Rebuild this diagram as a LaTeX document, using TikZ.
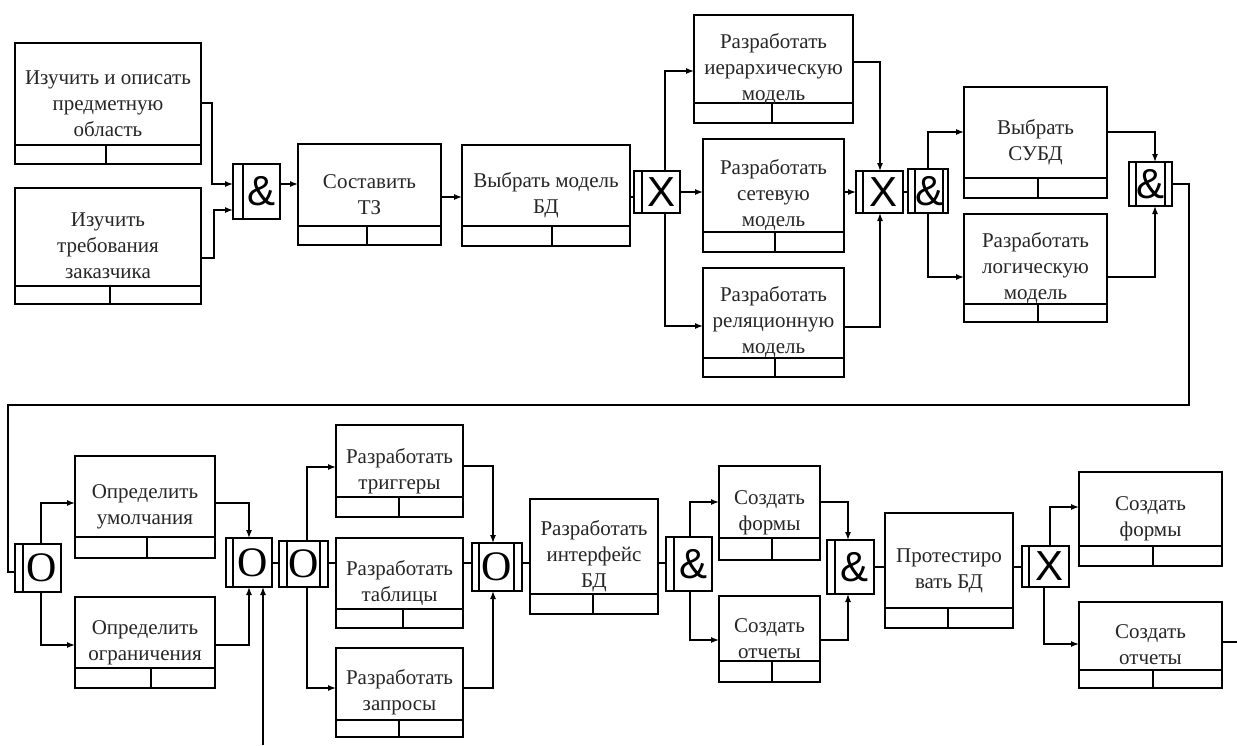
\documentclass[tikz,border=0pt]{standalone}
\usepackage{fontspec}
\setmainfont{Liberation Serif}
\newfontfamily\symsans{Liberation Sans}
\newfontfamily\symserif{Liberation Serif}
\usetikzlibrary{arrows.meta}
\tikzset{
  ubx/.style={draw, line width=1.3pt, rectangle, inner sep=0pt, outer sep=0pt},
  jbox/.style={draw, line width=1.3pt, rectangle, inner sep=0pt, outer sep=0pt, fill=white},
  txt/.style={font=\fontsize{21}{26}\selectfont, align=center, inner sep=0pt, text=black!85},
  ampsym/.style={font=\symsans\fontsize{42}{42}\selectfont, inner sep=0pt},
  xsym/.style={font=\symsans\fontsize{42}{42}\selectfont, inner sep=0pt},
  osym/.style={font=\symserif\fontsize{42}{42}\selectfont, inner sep=0pt},
  conn/.style={line width=1.3pt},
  arr/.style={conn, -{Latex[length=8pt,width=6pt]}},
  thin line/.style={line width=1.3pt}
}
% name, x1, y1, x2, y2, divider y, divider x, text
\newcommand\ubox[8]{%
  \node[ubx, minimum width={#4-#2}, minimum height={#5-#3}] (#1) at ({(#2+#4)/2},{(#3+#5)/2}) {};
  \draw[thin line] (#2,#6) -- (#4,#6);
  \draw[thin line] (#7,#6) -- (#7,#5);
  \node[txt] at ({(#2+#4)/2},{(#3+#5)/2}) {#8};
}
% name, x1, y1, x2, y2, symbol style, left strip x, right strip x (= x2 if none)
\newcommand\jn[8]{%
  \node[jbox, minimum width={#4-#2}, minimum height={#5-#3}] (#1) at ({(#2+#4)/2},{(#3+#5)/2}) {};
  \draw[thin line] (#7,#3) -- (#7,#5);
  \draw[thin line] (#8,#3) -- (#8,#5);
  \node[#6sym] at ({(#7+#8)/2},{(#3+#5)/2}) {\csname jsym#6\endcsname};
}
\newcommand\jsymamp{\&}
\newcommand\jsymx{X}
\newcommand\jsymo{O}
\begin{document}
\begin{tikzpicture}[x=1pt,y=-1pt]
\useasboundingbox[fill=white] (0,0) rectangle (1237,745);

% ---------- top row boxes ----------
\ubox{a1}{15}{43}{201}{164}{145}{106}{Изучить и описать\\предметную\\область}
\ubox{a2}{15}{188}{201}{304}{286}{110}{Изучить\\требования\\заказчика}
\ubox{tz}{298}{144}{441}{245}{226}{367}{Составить\\ТЗ}
\ubox{vm}{462}{145}{630}{246}{226}{552}{Выбрать модель\\БД}
\ubox{ier}{694}{15}{853}{123}{103}{772}{Разработать\\иерархическую\\модель}
\ubox{set}{703}{139}{844}{252}{232}{775}{Разработать\\сетевую\\модель}
\ubox{rel}{703}{268}{844}{377}{358}{775}{Разработать\\реляционную\\модель}
\ubox{subd}{964}{87}{1107}{198}{178}{1038}{Выбрать\\СУБД}
\ubox{log}{964}{214}{1107}{322}{304}{1038}{Разработать\\логическую\\модель}

% ---------- bottom row boxes ----------
\ubox{um}{75}{456}{215}{558}{537}{147}{Определить\\умолчания}
\ubox{ogr}{75}{597}{215}{688}{668}{151}{Определить\\ограничения}
\ubox{trig}{336}{425}{463}{517}{497}{399}{Разработать\\триггеры}
\ubox{tab}{336}{538}{463}{628}{609}{403}{Разработать\\таблицы}
\ubox{zap}{336}{648}{463}{737}{720}{399}{Разработать\\запросы}
\ubox{int}{530}{499}{658}{614}{594}{593}{Разработать\\интерфейс\\БД}
\ubox{fa}{719}{466}{820}{560}{538}{772}{Создать\\формы}
\ubox{oa}{719}{596}{820}{682}{661}{772}{Создать\\отчеты}
\ubox{test}{885}{513}{1013}{628}{608}{948}{Протестиро\\вать БД}
\ubox{fb}{1079}{472}{1222}{566}{546}{1153}{Создать\\формы}
\ubox{ob}{1079}{602}{1222}{688}{670}{1153}{Создать\\отчеты}

% ---------- junctions ----------
\jn{j1}{233}{164}{280}{219}{amp}{243}{280}
\jn{xa}{634}{171}{680}{213}{x}{642}{680}
\jn{xb}{856}{171}{903}{213}{x}{863}{903}
\jn{j2}{908}{169}{948}{213}{amp}{915}{943}
\jn{j3}{1129}{162}{1172}{206}{amp}{1136}{1165}
\jn{oa1}{15}{544}{61}{592}{o}{23}{61}
\jn{oa2}{226}{538}{272}{587}{o}{233}{272}
\jn{oa3}{279}{541}{328}{587}{o}{287}{320}
\jn{oa4}{472}{543}{522}{591}{o}{479}{514}
\jn{j4}{666}{537}{712}{591}{amp}{674}{712}
\jn{j5}{827}{540}{874}{594}{amp}{835}{874}
\jn{xc}{1022}{546}{1069}{587}{x}{1029}{1069}

\coordinate (inbottom) at (263,745);
\coordinate (outright) at (1237,642);

% ---------- connectors top ----------
\draw[arr] (a1.east |- 0,103) -- (212,103) |- (j1.west |- 0,184);
\draw[arr] (a2.east |- 0,258) -- (214,258) |- (j1.west |- 0,210);
\draw[arr] (j1.east |- 0,184) -- (tz.west |- 0,184);
\draw[arr] (tz.east |- 0,197) -- (vm.west |- 0,197);
\draw[conn] (vm.east |- 0,197) -- (xa.west |- 0,197);
\draw[arr] (665,0 |- xa.north) |- (ier.west |- 0,71);
\draw[arr] (665,0 |- xa.south) |- (rel.west |- 0,326);
\draw[arr] (xa.east |- 0,192) -- (set.west |- 0,192);
\draw[arr] (ier.east |- 0,62) -| (880,0 |- xb.north);
\draw[arr] (rel.east |- 0,327) -| (880,0 |- xb.south);
\draw[arr] (set.east |- 0,192) -- (xb.west |- 0,192);
\draw[conn] (xb.east |- 0,192) -- (j2.west |- 0,192);
\draw[arr] (928,0 |- j2.north) |- (subd.west |- 0,132);
\draw[arr] (928,0 |- j2.south) |- (log.west |- 0,277);
\draw[arr] (subd.east |- 0,132) -| (1155,0 |- j3.north);
\draw[arr] (log.east |- 0,277) -| (1155,0 |- j3.south);
\draw[conn] (j3.east |- 0,184) -- (1189,184) -- (1189,405) -- (8,405) -- (8,572) -- (oa1.west |- 0,572);

% ---------- connectors bottom ----------
\draw[arr] (41,0 |- oa1.north) |- (um.west |- 0,503);
\draw[arr] (41,0 |- oa1.south) |- (ogr.west |- 0,645);
\draw[arr] (um.east |- 0,503) -| (249,0 |- oa2.north);
\draw[arr] (ogr.east |- 0,645) -| (249,0 |- oa2.south);
\draw[arr] (inbottom) -- (inbottom |- oa2.south);
\draw[conn] (oa2.east |- 0,563) -- (oa3.west |- 0,563);
\draw[arr] (307,0 |- oa3.north) |- (trig.west |- 0,467);
\draw[arr] (307,0 |- oa3.south) |- (zap.west |- 0,688);
\draw[conn] (oa3.east |- 0,563) -- (tab.west |- 0,563);
\draw[arr] (trig.east |- 0,466) -| (493,0 |- oa4.north);
\draw[arr] (zap.east |- 0,688) -| (493,0 |- oa4.south);
\draw[conn] (tab.east |- 0,563) -- (oa4.west |- 0,563);
\draw[conn] (oa4.east |- 0,563) -- (int.west |- 0,563);
\draw[conn] (int.east |- 0,563) -- (j4.west |- 0,563);
\draw[arr] (690,0 |- j4.north) |- (fa.west |- 0,502);
\draw[arr] (690,0 |- j4.south) |- (oa.west |- 0,640);
\draw[arr] (fa.east |- 0,502) -| (848,0 |- j5.north);
\draw[arr] (oa.east |- 0,640) -| (848,0 |- j5.south);
\draw[conn] (j5.east |- 0,567) -- (test.west |- 0,567);
\draw[conn] (test.east |- 0,567) -- (xc.west |- 0,567);
\draw[arr] (1050,0 |- xc.north) |- (fb.west |- 0,507);
\draw[arr] (1044,0 |- xc.south) |- (ob.west |- 0,644);
\draw[conn] (ob.east |- 0,642) -- (outright);
\end{tikzpicture}
\end{document}
